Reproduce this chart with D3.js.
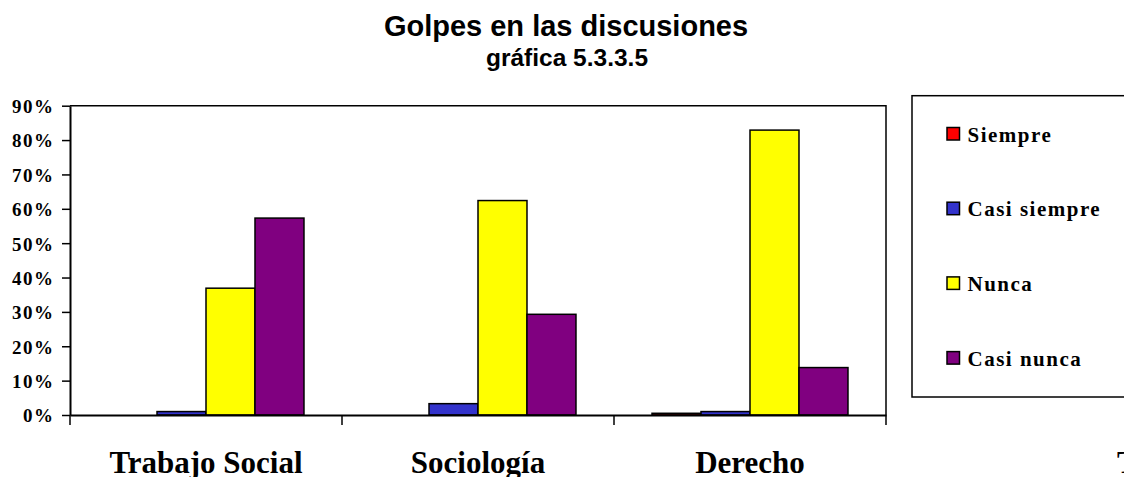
<!DOCTYPE html>
<html>
<head>
<meta charset="utf-8">
<script src="https://cdn.jsdelivr.net/npm/d3@7"></script>
<style>
  body { margin: 0; background: #fff; overflow: hidden; }
  svg { display: block; }
</style>
</head>
<body>
<div id="chart"></div>
<script>
const categories = ['Trabajo Social', 'Sociología', 'Derecho']
const series = ['Siempre', 'Casi siempre', 'Nunca', 'Casi nunca']
const colors = ['#ff0000', '#3333cc', '#ffff00', '#800080']
// percent per category, in series order
const values = [
  [0, 1.0, 36.9, 57.3],
  [0, 3.3, 62.4, 29.3],
  [0.5, 1.0, 82.9, 13.8],
]
const yTicks = [0, 10, 20, 30, 40, 50, 60, 70, 80, 90]

const W = 1124, H = 477
const plot = {left: 70, right: 886, top: 105.7, bottom: 415}

const svg = d3.select('#chart').append('svg')
  .attr('width', W).attr('height', H)

svg.append('text')
  .attr('x', 566).attr('y', 36)
  .attr('text-anchor', 'middle')
  .style('font', 'bold 29px "Liberation Sans", Arial, sans-serif')
  .text('Golpes en las discusiones')

svg.append('text')
  .attr('x', 567).attr('y', 66)
  .attr('text-anchor', 'middle')
  .style('font', 'bold 24.5px "Liberation Sans", Arial, sans-serif')
  .text('gráfica 5.3.3.5')

const x0 = d3.scaleBand().domain(categories).range([plot.left, plot.right])
const x1 = d3.scaleBand().domain(series).range([0, x0.bandwidth()])
  .paddingInner(0).paddingOuter(0.776)
const y = d3.scaleLinear().domain([0, 90]).range([plot.bottom, plot.top])

// bars
const groups = svg.append('g').selectAll('g')
  .data(categories)
  .join('g')
  .attr('transform', d => `translate(${x0(d)},0)`)

groups.selectAll('rect')
  .data((d, i) => values[i].map((v, j) => ({s: series[j], v: v, c: colors[j]})))
  .join('rect')
  .attr('x', d => x1(d.s))
  .attr('y', d => y(d.v))
  .attr('width', x1.bandwidth())
  .attr('height', d => plot.bottom - y(d.v))
  .attr('fill', d => d.c)
  .attr('stroke', '#000')
  .attr('stroke-width', 1.5)

// plot border (top + right)
svg.append('path')
  .attr('d', `M${plot.left},${plot.top}H${plot.right}V${plot.bottom}`)
  .attr('fill', 'none').attr('stroke', '#000').attr('stroke-width', 1.5)

// y axis
const yAxis = svg.append('g')
  .attr('transform', `translate(${plot.left},0)`)
  .call(d3.axisLeft(y).tickValues(yTicks).tickSize(8).tickSizeOuter(0)
    .tickFormat(d => d + '%'))
yAxis.select('.domain').attr('stroke-width', 2)
yAxis.selectAll('.tick line').attr('stroke-width', 1.5)
yAxis.selectAll('text')
  .attr('x', -15.5)
  .attr('dy', '0.36em')
  .style('font', 'bold 19px "Liberation Serif", "Times New Roman", serif')
  .style('letter-spacing', '1.5px')
  .attr('fill', '#000')

// x axis
const xAxis = svg.append('g')
  .attr('transform', `translate(0,${plot.bottom})`)
  .call(d3.axisBottom(x0).tickSize(0).tickSizeOuter(0).tickFormat(''))
xAxis.select('.domain').attr('stroke-width', 2)
xAxis.selectAll('.sep')
  .data(d3.range(categories.length + 1))
  .join('line')
  .attr('x1', i => plot.left + i * x0.step())
  .attr('x2', i => plot.left + i * x0.step())
  .attr('y1', 0).attr('y2', 10)
  .attr('stroke', '#000').attr('stroke-width', 1.5)

svg.append('g').selectAll('text')
  .data(categories)
  .join('text')
  .attr('x', d => x0(d) + x0.bandwidth() / 2)
  .attr('y', 473)
  .attr('text-anchor', 'middle')
  .style('font', 'bold 31px "Liberation Serif", "Times New Roman", serif')
  .text(d => d)

// partly cut label at the right edge
svg.append('text')
  .attr('x', 1117).attr('y', 473)
  .style('font', 'bold 31px "Liberation Serif", "Times New Roman", serif')
  .text('T')

// legend
svg.append('rect')
  .attr('x', 912).attr('y', 95.7)
  .attr('width', 260).attr('height', 301.3)
  .attr('fill', '#fff').attr('stroke', '#000').attr('stroke-width', 1.5)

const legend = svg.append('g').selectAll('g')
  .data(series)
  .join('g')
  .attr('transform', (d, i) => `translate(947,${134 + i * 74.7})`)

legend.append('rect')
  .attr('x', 0).attr('y', -6.5)
  .attr('width', 12.5).attr('height', 12.5)
  .attr('fill', (d, i) => colors[i])
  .attr('stroke', '#000').attr('stroke-width', 1.5)

legend.append('text')
  .attr('x', 20.5).attr('y', 7.5)
  .style('font', 'bold 21px "Liberation Serif", "Times New Roman", serif')
  .style('letter-spacing', '1.5px')
  .text(d => d)
</script>
</body>
</html>
